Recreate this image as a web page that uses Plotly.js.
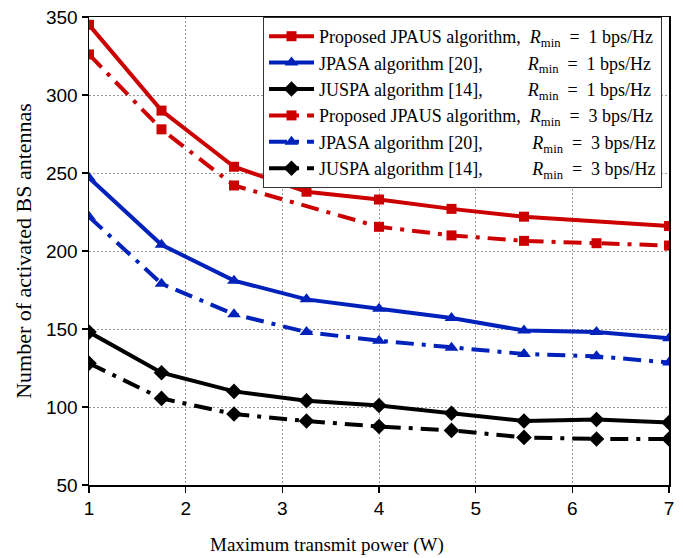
<!DOCTYPE html>
<html>
<head>
<meta charset="utf-8">
<script src="https://cdn.plot.ly/plotly-3.0.1.min.js"></script>
<style>html,body{margin:0;padding:0;background:#fff;}</style>
</head>
<body>
<div id="chart" style="width:683px;height:558px;"></div>
<script>
const power = [1, 1.75, 2.5, 3.25, 4, 4.75, 5.5, 6.25, 7];
const jpausR1 = [345, 290, 254, 238, 233, 227, 222, null, 216];
const jpasaR1 = [247, 204, 181, 169, 163, 157, 149, 148, 144];
const juspaR1 = [148, 122, 110, 104, 101, 96, 91, 92, 90];
const jpausR3 = [326, 278, 242, null, 215.5, 210, 206.5, 205, 203.5];
const jpasaR3 = [222, 179, 159.5, 148, 142.5, 138, 134, 132.5, 128.5];
const juspaR3 = [128, 105.5, 95.5, 91, 87.5, 85, 80.5, 79.5, 79.5];

const names = [
  'Proposed JPAUS algorithm,&nbsp;&nbsp;<i>R</i><sub>min</sub>&nbsp;&nbsp;=&nbsp;&nbsp;1 bps/Hz',
  'JPASA algorithm [20],&nbsp;&nbsp;&nbsp;&nbsp;&nbsp;&nbsp;&nbsp;&nbsp;&nbsp;&nbsp;<i>R</i><sub>min</sub>&nbsp;&nbsp;=&nbsp;&nbsp;1 bps/Hz',
  'JUSPA algorithm [14],&nbsp;&nbsp;&nbsp;&nbsp;&nbsp;&nbsp;&nbsp;&nbsp;&nbsp;&nbsp;<i>R</i><sub>min</sub>&nbsp;&nbsp;=&nbsp;&nbsp;1 bps/Hz',
  'Proposed JPAUS algorithm,&nbsp;&nbsp;<i>R</i><sub>min</sub>&nbsp;&nbsp;=&nbsp;&nbsp;3 bps/Hz',
  'JPASA algorithm [20],&nbsp;&nbsp;&nbsp;&nbsp;&nbsp;&nbsp;&nbsp;&nbsp;&nbsp;&nbsp;&nbsp;<i>R</i><sub>min</sub>&nbsp;&nbsp;=&nbsp;&nbsp;3 bps/Hz',
  'JUSPA algorithm [14],&nbsp;&nbsp;&nbsp;&nbsp;&nbsp;&nbsp;&nbsp;&nbsp;&nbsp;&nbsp;&nbsp;<i>R</i><sub>min</sub>&nbsp;&nbsp;=&nbsp;&nbsp;3 bps/Hz'
];
const xTitle = 'Maximum transmit power (W)';
const yTitle = 'Number of activated BS antennas';

const red = '#cc0000', blue = '#0022bb', black = '#000000';
const dd = '18px,8px,4px,8px';
const serif = '"Liberation Serif", "Times New Roman", serif';
const sans = '"Liberation Sans", Arial, sans-serif';

function tr(y, name, color, symbol, msize, dash) {
  return {
    x: power, y: y, name: name, type: 'scatter', mode: 'lines+markers',
    connectgaps: true,
    line: {color: color, width: 4, dash: dash},
    marker: {color: color, symbol: symbol, size: msize}
  };
}

const data = [
  tr(jpausR1, names[0], red, 'square', 10, 'solid'),
  tr(jpasaR1, names[1], blue, 'triangle-up', 12, 'solid'),
  tr(juspaR1, names[2], black, 'diamond', 12, 'solid'),
  tr(jpausR3, names[3], red, 'square', 10, dd),
  tr(jpasaR3, names[4], blue, 'triangle-up', 12, dd),
  tr(juspaR3, names[5], black, 'diamond', 12, dd)
];

const layout = {
  width: 683, height: 558,
  margin: {l: 89, r: 14, t: 17, b: 73},
  paper_bgcolor: '#fff', plot_bgcolor: '#fff',
  showlegend: true,
  legend: {
    x: 0.3, y: 1.0, xanchor: 'left', yanchor: 'top',
    bgcolor: '#fff', bordercolor: '#333', borderwidth: 1,
    font: {family: serif, size: 18, color: '#000'},
    tracegroupgap: 0, itemwidth: 45
  },
  xaxis: {
    range: [1, 7], tickvals: [1, 2, 3, 4, 5, 6, 7],
    showline: true, linecolor: '#000', linewidth: 1.5, mirror: true,
    ticks: 'outside', ticklen: 6, tickcolor: '#000', tickwidth: 1.5,
    showgrid: true, gridcolor: '#999', gridwidth: 1, griddash: '2px,2px',
    zeroline: false,
    tickfont: {family: sans, size: 19, color: '#000'}
  },
  yaxis: {
    range: [50, 350], tickvals: [50, 100, 150, 200, 250, 300, 350],
    showline: true, linecolor: '#000', linewidth: 1.5, mirror: true,
    ticks: 'outside', ticklen: 6, tickcolor: '#000', tickwidth: 1.5,
    showgrid: true, gridcolor: '#999', gridwidth: 1, griddash: '2px,2px',
    zeroline: false,
    tickfont: {family: sans, size: 19, color: '#000'},
    title: {text: yTitle, font: {family: serif, size: 22, color: '#000'}, standoff: 8}
  },
  annotations: [{
    text: xTitle, xref: 'paper', yref: 'paper', x: 0.41, y: -0.128,
    xanchor: 'center', yanchor: 'middle', showarrow: false,
    font: {family: serif, size: 19, color: '#000'}
  }]
};

Plotly.newPlot('chart', data, layout, {displayModeBar: false, staticPlot: true});
</script>
</body>
</html>
